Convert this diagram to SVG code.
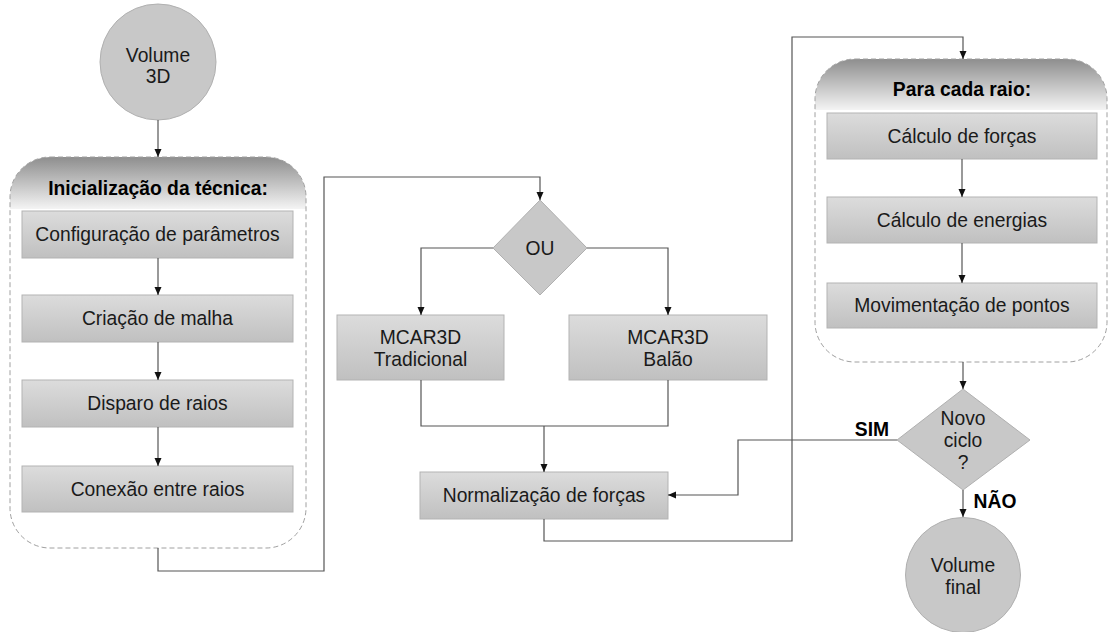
<svg xmlns="http://www.w3.org/2000/svg" width="1108" height="632" viewBox="0 0 1108 632">
<style>
text{font-family:"Liberation Sans",Arial,sans-serif;font-size:19.3px;fill:#1a1a1a;text-anchor:middle}
.b{font-weight:bold;fill:#000}
.box{fill:url(#gBox);stroke:#b3b3b3;stroke-width:1}
.shape{fill:#c8c8c8;stroke:#b0b0b0;stroke-width:1}
.grp{fill:none;stroke:#a0a0a0;stroke-width:1;stroke-dasharray:5 3}
.hdr{fill:url(#gHdr)}
.c{fill:none;stroke:#555;stroke-width:1.2}
</style>
<defs>
<linearGradient id="gBox" x1="0" y1="0" x2="0" y2="1">
<stop offset="0" stop-color="#dcdcdc"/>
<stop offset="1" stop-color="#c0c0c0"/>
</linearGradient>
<linearGradient id="gHdr" x1="0" y1="0" x2="0" y2="1">
<stop offset="0" stop-color="#8e8e8e"/>
<stop offset="1" stop-color="#f4f4f4"/>
</linearGradient>
<clipPath id="clip1"><rect x="10" y="157" width="296" height="391" rx="40"/></clipPath>
<clipPath id="clip2"><rect x="815" y="59" width="292" height="303" rx="40"/></clipPath>
<marker id="arr" markerWidth="8" markerHeight="8" refX="8" refY="3.5" orient="auto" markerUnits="userSpaceOnUse">
<path d="M0,0 L8,3.5 L0,7 z" fill="#111"/>
</marker>
</defs>

<g id="volume3d">
<circle class="shape" cx="158" cy="62" r="58"/>
<text x="158" y="62">Volume</text>
<text x="158" y="83">3D</text>
</g>

<g id="grupo-inicializacao">
<rect class="hdr" x="10" y="157" width="296" height="52" clip-path="url(#clip1)"/>
<rect class="grp" x="10" y="157" width="296" height="391" rx="40"/>
<text class="b" x="158" y="195">Inicialização da técnica:</text>
</g>
<g id="configuracao">
<rect class="box" x="22" y="211" width="271" height="47"/>
<text x="157.5" y="241">Configuração de parâmetros</text>
</g>
<g id="criacao">
<rect class="box" x="22" y="295" width="271" height="47"/>
<text x="157.5" y="325">Criação de malha</text>
</g>
<g id="disparo">
<rect class="box" x="22" y="380" width="271" height="47"/>
<text x="157.5" y="410">Disparo de raios</text>
</g>
<g id="conexao">
<rect class="box" x="22" y="466" width="271" height="46"/>
<text x="157.5" y="496">Conexão entre raios</text>
</g>

<g id="ou">
<polygon class="shape" points="540,200 587,248 540,295 493,248"/>
<text x="540" y="255">OU</text>
</g>
<g id="tradicional">
<rect class="box" x="337" y="315" width="167" height="65"/>
<text x="420.5" y="344">MCAR3D</text>
<text x="420.5" y="366">Tradicional</text>
</g>
<g id="balao">
<rect class="box" x="569" y="315" width="198" height="65"/>
<text x="668" y="344">MCAR3D</text>
<text x="668" y="366">Balão</text>
</g>
<g id="normalizacao">
<rect class="box" x="420" y="472" width="248" height="47"/>
<text x="544" y="502">Normalização de forças</text>
</g>

<g id="grupo-raio">
<rect class="hdr" x="815" y="59" width="292" height="51" clip-path="url(#clip2)"/>
<rect class="grp" x="815" y="59" width="292" height="303" rx="40"/>
<text class="b" x="962" y="96">Para cada raio:</text>
</g>
<g id="forcas">
<rect class="box" x="827" y="113" width="270" height="46"/>
<text x="962" y="143">Cálculo de forças</text>
</g>
<g id="energias">
<rect class="box" x="827" y="197" width="270" height="46"/>
<text x="962" y="227">Cálculo de energias</text>
</g>
<g id="movimentacao">
<rect class="box" x="827" y="283" width="270" height="45"/>
<text x="962" y="312">Movimentação de pontos</text>
</g>

<g id="novo-ciclo">
<polygon class="shape" points="963,389 1030,440 963,490 897,440"/>
<text x="963" y="425">Novo</text>
<text x="963" y="447">ciclo</text>
<text x="963" y="469">?</text>
</g>
<g id="volume-final">
<circle class="shape" cx="963" cy="575" r="57.5"/>
<text x="963" y="572">Volume</text>
<text x="963" y="594">final</text>
</g>

<g id="connectors">
<path class="c" d="M158,120 V157" marker-end="url(#arr)"/>
<path class="c" d="M158,258 V295" marker-end="url(#arr)"/>
<path class="c" d="M158,342 V380" marker-end="url(#arr)"/>
<path class="c" d="M158,427 V466" marker-end="url(#arr)"/>
<path class="c" d="M158,548 V571 H324 V177 H540 V200" marker-end="url(#arr)"/>
<path class="c" d="M493,248 H421 V315" marker-end="url(#arr)"/>
<path class="c" d="M587,248 H668 V315" marker-end="url(#arr)"/>
<path class="c" d="M421,380 V426 H668 V380"/>
<path class="c" d="M544,426 V472" marker-end="url(#arr)"/>
<path class="c" d="M544,519 V541 H792 V37 H963 V59" marker-end="url(#arr)"/>
<path class="c" d="M962,159 V197" marker-end="url(#arr)"/>
<path class="c" d="M962,243 V283" marker-end="url(#arr)"/>
<path class="c" d="M963,362 V389" marker-end="url(#arr)"/>
<path class="c" d="M897,440 H738 V495 H668" marker-end="url(#arr)"/>
<path class="c" d="M963,490 V517" marker-end="url(#arr)"/>
<text class="b" x="872" y="436">SIM</text>
<text class="b" x="995" y="508">NÃO</text>
</g>
</svg>
